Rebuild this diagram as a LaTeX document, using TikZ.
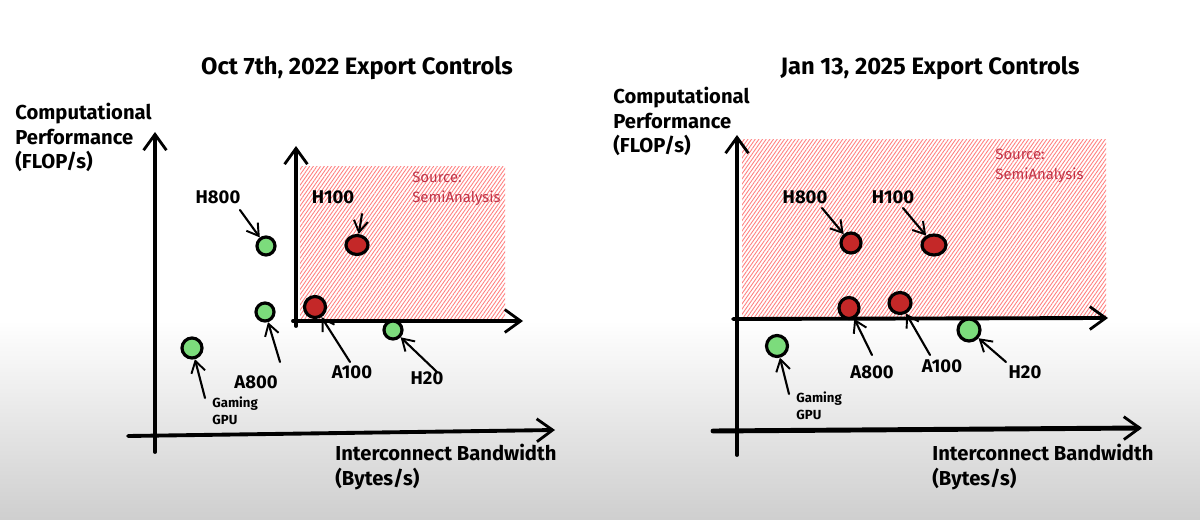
\documentclass[tikz,border=0pt]{standalone}
\usepackage{fontspec}
\setmainfont{Fira Sans}
\usetikzlibrary{arrows.meta,shapes.geometric,patterns.meta}
\definecolor{chipgreen}{RGB}{124,220,124}
\definecolor{chipred}{RGB}{196,40,40}
\definecolor{srcred}{RGB}{192,52,72}
\definecolor{zonepink}{RGB}{251,232,232}
\tikzset{
  axis/.style={line width=2.2pt, line cap=round, -{Straight Barb[length=9pt,width=13pt,line width=1.6pt]}},
  pointer/.style={line width=1.2pt, line cap=round, -{Straight Barb[length=6.5pt,width=8pt,line width=1.1pt]}},
  zone/.style={fill=zonepink, pattern color=red!50, draw=none},
  okchip/.style={circle, draw=black, line width=1.8pt, fill=chipgreen, inner sep=0pt, minimum size=0.36cm},
  badchip/.style={ellipse, draw=black, line width=1.8pt, fill=chipred, inner sep=0pt, minimum width=0.44cm, minimum height=0.38cm},
  chipname/.style={font=\bfseries\fontsize{10.5}{12}\selectfont, inner sep=1pt},
  smallname/.style={font=\bfseries\fontsize{7.5}{10}\selectfont, align=left, anchor=north west, inner sep=0pt},
  axisname/.style={font=\bfseries\fontsize{11.5}{14}\selectfont, align=left, anchor=north west, inner sep=0pt},
  heading/.style={font=\bfseries\fontsize{13.5}{16}\selectfont},
  source/.style={font=\fontsize{8.5}{11}\selectfont, text=srcred, align=left, anchor=north west, inner sep=0pt}
}
\begin{document}
\begin{tikzpicture}[x=0.02cm, y=-0.02cm]
  \useasboundingbox (0,0) rectangle (1200,520);
  \fill[white] (0,0) rectangle (1200,520);
  \shade[top color=white, bottom color=gray!38] (0,320) rectangle (1200,520);

  % left chart: Oct 7th, 2022
  \node[heading] (t1) at (357,68) {Oct 7th, 2022 Export Controls};
  \node[axisname] (y1) at (15,103) {Computational\\Performance\\(FLOP/s)};
  \node[axisname] (x1) at (335,444) {Interconnect Bandwidth\\(Bytes/s)};
  \fill[zone, pattern={Lines[angle=55,distance=1.7pt,line width=0.5pt]}] (300,167) rectangle (505,318);
  \node[source] (s1) at (412,172) {Source:\\SemiAnalysis};
  \draw[axis] (155,452) -- (155,132);
  \draw[axis] (128,436) -- (555,430);
  \draw[axis] (296,326) -- (296,146);
  \draw[axis] (293,321) -- (523,321);

  \node[okchip] (h800a) at (266,246) {};
  \node[okchip] (a800a) at (265,312) {};
  \node[okchip] (h20a) at (393,330) {};
  \node[okchip, minimum size=0.4cm] (gpua) at (192,348) {};
  \node[badchip] (h100a) at (357,245) {};
  \node[badchip, minimum width=0.42cm, minimum height=0.42cm] (a100a) at (315,307) {};

  \node[chipname] (h800al) at (218,197) {H800};
  \node[chipname] (h100al) at (333,197) {H100};
  \node[chipname] (a800al) at (256,382) {A800};
  \node[chipname] (a100al) at (352,372) {A100};
  \node[chipname] (h20al) at (427,378) {H20};
  \node[smallname] (gpual) at (212,396) {Gaming\\GPU};

  \coordinate (h800at) at (240,210);
  \coordinate (h100at) at (362,214);
  \coordinate (a800at) at (280,362);
  \coordinate (a100at) at (350,362);
  \coordinate (h20at) at (437,372);
  \coordinate (gpuat) at (205,398);
  \draw[pointer] (h800at) -- (h800a);
  \draw[pointer] (h100at) -- (h100a);
  \draw[pointer] (a800at) -- (a800a);
  \draw[pointer] (a100at) -- (a100a);
  \draw[pointer] (h20at) -- (h20a);
  \draw[pointer] (gpuat) -- (gpua);

  % right chart: Jan 13, 2025
  \node[heading] (t2) at (930,68) {Jan 13, 2025 Export Controls};
  \node[axisname] (y2) at (613,87) {Computational\\Performance\\(FLOP/s)};
  \node[axisname] (x2) at (932,444) {Interconnect Bandwidth\\(Bytes/s)};
  \fill[zone, pattern={Lines[angle=55,distance=1.7pt,line width=0.5pt]}] (742,140) rectangle (1106,316);
  \node[source] (s2) at (995,149) {Source:\\SemiAnalysis};
  \draw[axis] (737,455) -- (737,135);
  \draw[axis, line width=2.8pt] (713,431) -- (1142,428);
  \draw[axis] (733,319) -- (1108,318);

  \node[badchip, minimum width=0.4cm, minimum height=0.4cm] (h800b) at (851,243) {};
  \node[badchip, minimum width=0.48cm, minimum height=0.4cm] (h100b) at (934,245) {};
  \node[badchip, minimum width=0.4cm, minimum height=0.42cm] (a800b) at (849,308) {};
  \node[badchip, minimum width=0.44cm, minimum height=0.42cm] (a100b) at (900,303) {};
  \node[okchip, minimum width=0.44cm, minimum height=0.4cm] (h20b) at (969,330) {};
  \node[okchip, minimum size=0.42cm] (gpub) at (777,346) {};

  \node[chipname] (h800bl) at (805,197) {H800};
  \node[chipname] (h100bl) at (893,197) {H100};
  \node[chipname] (a800bl) at (872,372) {A800};
  \node[chipname] (a100bl) at (942,366) {A100};
  \node[chipname] (h20bl) at (1025,372) {H20};
  \node[smallname] (gpubl) at (796,391) {Gaming\\GPU};

  \coordinate (h800bt) at (822,208);
  \coordinate (h100bt) at (903,208);
  \coordinate (a800bt) at (872,355);
  \coordinate (a100bt) at (930,355);
  \coordinate (h20bt) at (1006,362);
  \coordinate (gpubt) at (789,394);
  \draw[pointer] (h800bt) -- (h800b);
  \draw[pointer] (h100bt) -- (h100b);
  \draw[pointer] (a800bt) -- (a800b);
  \draw[pointer] (a100bt) -- (a100b);
  \draw[pointer] (h20bt) -- (h20b);
  \draw[pointer] (gpubt) -- (gpub);
\end{tikzpicture}
\end{document}
